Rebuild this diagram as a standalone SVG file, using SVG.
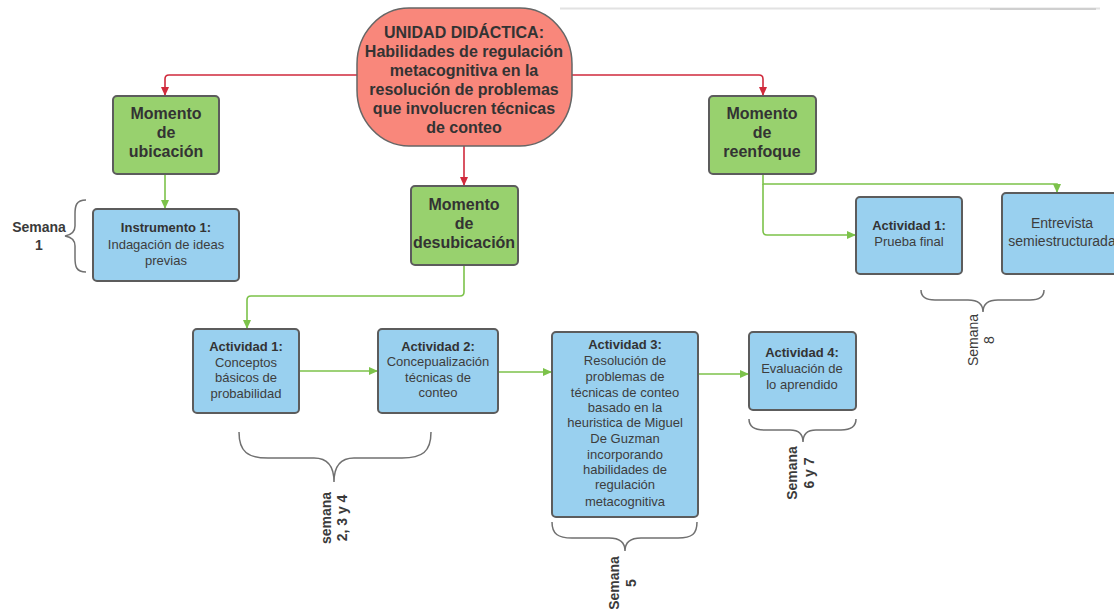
<svg xmlns="http://www.w3.org/2000/svg" width="1114" height="609" viewBox="0 0 1114 609">
<style>
text{font-family:"Liberation Sans",Arial,sans-serif;fill:#333;text-anchor:middle}
.h{font-size:16px;font-weight:bold}
.t{font-size:13px;font-weight:bold}
.b{font-size:13px;fill:#3d3d3d}
.s{font-size:14px;font-weight:bold;fill:#3a3a3a}
.g{fill:#98d16e;stroke:#5c5c5c;stroke-width:2}
.bl{fill:#99d0ef;stroke:#5c5c5c;stroke-width:2}
.red{fill:none;stroke:#d02a3c;stroke-width:1.6}
.grn{fill:none;stroke:#7cc24a;stroke-width:1.6}
.br{fill:none;stroke:#707070;stroke-width:1.5}
</style>
<defs>
<marker id="ar" markerWidth="10" markerHeight="10" refX="9" refY="5" orient="auto" markerUnits="userSpaceOnUse"><path d="M0,1 L9,5 L0,9 z" fill="#d02a3c"/></marker>
<marker id="ag" markerWidth="10" markerHeight="10" refX="9" refY="5" orient="auto" markerUnits="userSpaceOnUse"><path d="M0,1 L9,5 L0,9 z" fill="#7cc24a"/></marker>
</defs>
<rect width="1114" height="609" fill="#fff"/>
<line x1="560" y1="8.5" x2="1100" y2="8.5" stroke="#e2e2e2" stroke-width="2"/>
<line x1="990" y1="9" x2="1096" y2="9" stroke="#cfcfcf" stroke-width="2"/>

<g id="connectors">
<path class="red" d="M357,75 H169 Q165,75 165,79 V96" marker-end="url(#ar)"/>
<path class="red" d="M572,75 H759 Q763,75 763,79 V96" marker-end="url(#ar)"/>
<path class="red" d="M464,146 V186" marker-end="url(#ar)"/>
<path class="grn" d="M165,174 V209" marker-end="url(#ag)"/>
<path class="grn" d="M464,265 V292 Q464,296 460,296 H251 Q247,296 247,300 V329" marker-end="url(#ag)"/>
<path class="grn" d="M299,371 H378" marker-end="url(#ag)"/>
<path class="grn" d="M498,372 H552" marker-end="url(#ag)"/>
<path class="grn" d="M698,374 H749" marker-end="url(#ag)"/>
<path class="grn" d="M763,174 V184 H1057 V193" marker-end="url(#ag)"/>
<path class="grn" d="M763,184 V231 Q763,235 767,235 H856" marker-end="url(#ag)"/>
</g>

<g id="unidad">
<rect x="357" y="8" width="215" height="138" rx="52" ry="56" fill="#f9877b" stroke="#666" stroke-width="1.5"/>
<text class="h" x="464" y="38">UNIDAD DIDÁCTICA:</text>
<text class="h" x="464" y="57">Habilidades de regulación</text>
<text class="h" x="464" y="76">metacognitiva en la</text>
<text class="h" x="464" y="95">resolución de problemas</text>
<text class="h" x="464" y="114">que involucren técnicas</text>
<text class="h" x="464" y="133">de conteo</text>
</g>

<g id="m-ubicacion">
<rect class="g" x="113" y="96" width="106" height="78" rx="4"/>
<text class="h" x="166" y="119">Momento</text>
<text class="h" x="166" y="138">de</text>
<text class="h" x="166" y="157">ubicación</text>
</g>

<g id="m-desubicacion">
<rect class="g" x="411" y="186" width="107" height="79" rx="4"/>
<text class="h" x="464" y="210">Momento</text>
<text class="h" x="464" y="229">de</text>
<text class="h" x="464" y="248">desubicación</text>
</g>

<g id="m-reenfoque">
<rect class="g" x="709" y="96" width="107" height="78" rx="4"/>
<text class="h" x="762" y="119">Momento</text>
<text class="h" x="762" y="138">de</text>
<text class="h" x="762" y="157">reenfoque</text>
</g>

<g id="instrumento1">
<rect class="bl" x="93" y="209" width="146" height="72" rx="4"/>
<text class="t" x="166" y="232">Instrumento 1:</text>
<text class="b" x="166" y="249">Indagación de ideas</text>
<text class="b" x="166" y="265">previas</text>
</g>

<g id="actividad1">
<rect class="bl" x="193" y="329" width="106" height="84" rx="4"/>
<text class="t" x="246" y="351">Actividad 1:</text>
<text class="b" x="246" y="367">Conceptos</text>
<text class="b" x="246" y="382">básicos de</text>
<text class="b" x="246" y="398">probabilidad</text>
</g>

<g id="actividad2">
<rect class="bl" x="378" y="329" width="120" height="84" rx="4"/>
<text class="t" x="438" y="351">Actividad 2:</text>
<text class="b" x="438" y="366">Concepualización</text>
<text class="b" x="438" y="382">técnicas de</text>
<text class="b" x="438" y="397">conteo</text>
</g>

<g id="actividad3">
<rect class="bl" x="552" y="332" width="146" height="185" rx="4" stroke="#9ab" stroke-width="1"/>
<text class="t" x="625" y="349">Actividad 3:</text>
<text class="b" x="625" y="365">Resolución de</text>
<text class="b" x="625" y="381">problemas de</text>
<text class="b" x="625" y="397">técnicas de conteo</text>
<text class="b" x="625" y="412">basado en la</text>
<text class="b" x="625" y="427">heuristica de Miguel</text>
<text class="b" x="625" y="443">De Guzman</text>
<text class="b" x="625" y="459">incorporando</text>
<text class="b" x="625" y="474">habilidades de</text>
<text class="b" x="625" y="489">regulación</text>
<text class="b" x="625" y="506">metacognitiva</text>
</g>

<g id="actividad4">
<rect class="bl" x="749" y="332" width="107" height="78" rx="4"/>
<text class="t" x="802" y="357">Actividad 4:</text>
<text class="b" x="802" y="373">Evaluación de</text>
<text class="b" x="802" y="389">lo aprendido</text>
</g>

<g id="actividad1-final">
<rect class="bl" x="856" y="197" width="106" height="77" rx="4"/>
<text class="t" x="909" y="230">Actividad 1:</text>
<text class="b" x="909" y="246">Prueba final</text>
</g>

<g id="entrevista">
<rect class="bl" x="1002" y="193" width="130" height="81" rx="4"/>
<text class="b" x="1062" y="228" style="font-size:14px">Entrevista</text>
<text class="b" x="1062" y="246" style="font-size:14px">semiestructurada</text>
</g>

<g id="braces">
<path class="br" d="M86,200 C76,200 75,206 75,214 V226 C75,232 71,235 65,236 C71,237 75,240 75,246 V258 C75,266 76,272 86,272"/>
<path class="br" d="M239,432 C239,452 248,458 268,458 H314 C328,458 334,466 334,482 C334,466 340,458 354,458 H402 C422,458 431,452 431,432"/>
<path class="br" d="M552,522 C552,534 558,538 572,538 H609 C620,538 625,542 625,551 C625,542 630,538 641,538 H678 C692,538 697,534 697,522"/>
<path class="br" d="M749,419 C749,427 754,430 764,430 H790 C799,430 803,434 803,442 C803,434 807,430 816,430 H841 C851,430 856,427 856,419"/>
<path class="br" d="M921,290 C921,297 926,300 935,300 H968 C978,300 983,304 983,312 C983,304 988,300 998,300 H1030 C1039,300 1044,297 1044,290"/>
</g>

<g id="semana-labels">
<text class="s" x="39" y="232">Semana</text>
<text class="s" x="39" y="250">1</text>
<text class="s" transform="translate(331,518) rotate(-90)"><tspan x="0" y="0">semana</tspan><tspan x="0" y="16">2, 3 y 4</tspan></text>
<text class="s" transform="translate(619,583) rotate(-90)"><tspan x="0" y="0">Semana</tspan><tspan x="0" y="17">5</tspan></text>
<text class="s" transform="translate(797,473) rotate(-90)"><tspan x="0" y="0">Semana</tspan><tspan x="0" y="17">6 y 7</tspan></text>
<text class="s" style="font-weight:normal" transform="translate(978,340) rotate(-90)"><tspan x="0" y="0">Semana</tspan><tspan x="0" y="16">8</tspan></text>
</g>
</svg>
